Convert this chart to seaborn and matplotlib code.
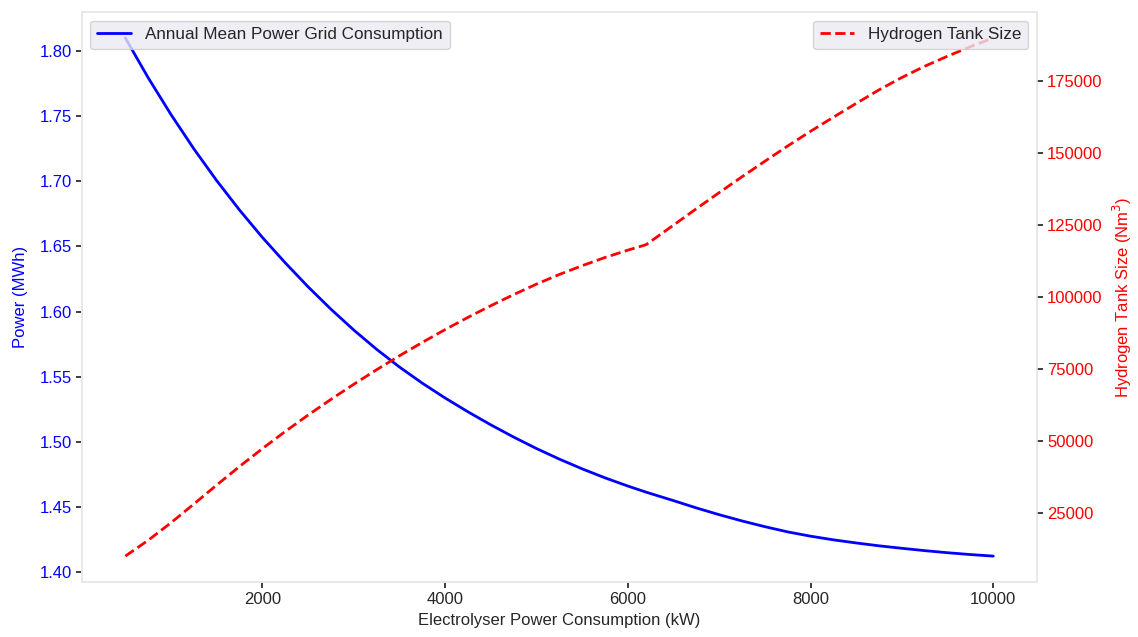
import matplotlib
matplotlib.use("Agg")
import matplotlib.pyplot as plt
import pandas as pd
import seaborn as sns

# Electrolyser sizes (kW)
electrolyser_kw = [500, 750, 1000, 1250, 1500, 1750, 2000, 2250, 2500, 2750,
                   3000, 3250, 3500, 3750, 4000, 4250, 4500, 4750, 5000, 5250,
                   5500, 5750, 6000, 6200, 6500, 6750, 7000, 7250, 7500, 7750,
                   8000, 8250, 8500, 8750, 9000, 9250, 9500, 9750, 10000]

# Annual mean grid consumption (MWh)
grid_power_mwh = [1.8100, 1.7795, 1.7512, 1.7249, 1.7005, 1.6779, 1.6569, 1.6374, 1.6190, 1.6018,
                  1.5858, 1.5710, 1.5574, 1.5450, 1.5336, 1.5230, 1.5130, 1.5036, 1.4948, 1.4867,
                  1.4792, 1.4723, 1.4660, 1.4613, 1.4548, 1.4492, 1.4440, 1.4392, 1.4348, 1.4308,
                  1.4275, 1.4247, 1.4223, 1.4201, 1.4182, 1.4164, 1.4148, 1.4134, 1.4122]

# Required hydrogen tank size (Nm^3)
tank_size_nm3 = [10000, 15500, 21600, 28100, 34700, 41150, 47350, 53300, 59000, 64450,
                 69700, 74750, 79600, 84250, 88700, 92950, 97000, 100850, 104500, 107850,
                 110900, 113750, 116300, 118200, 125000, 130700, 136300, 141800, 147200, 152500,
                 157600, 162500, 167300, 172000, 176300, 180200, 183700, 187000, 190000]

df = pd.DataFrame({
    "Electrolyser Power Consumption (kW)": electrolyser_kw,
    "Power (MWh)": grid_power_mwh,
    "Tank": tank_size_nm3,
})

sns.set_theme(style="white")
plt.rcParams["font.family"] = ["Liberation Sans", "DejaVu Sans"]
plt.rcParams.update({
    "axes.edgecolor": "#e8e8e8",
    "axes.linewidth": 1.2,
    "xtick.bottom": True,
    "ytick.left": True,
    "ytick.right": True,
    "xtick.major.size": 4,
    "ytick.major.size": 4,
    "xtick.color": ".15",
    "ytick.color": ".15",
    "legend.facecolor": "#eaeaf2",
    "legend.edgecolor": "#cccccc",
})

fig, ax1 = plt.subplots(figsize=(11.38, 6.37), dpi=100)
fig.subplots_adjust(left=0.072, right=0.911, top=0.981, bottom=0.0863)

sns.lineplot(data=df, x="Electrolyser Power Consumption (kW)", y="Power (MWh)",
             ax=ax1, color="blue", linewidth=2,
             label="Annual Mean Power Grid Consumption")
ax1.set_xlabel("Electrolyser Power Consumption (kW)", fontsize=12, color=".15")
ax1.set_ylabel("Power (MWh)", fontsize=12, color="blue", labelpad=8)
ax1.tick_params(axis="y", labelcolor="blue", labelsize=12)
ax1.tick_params(axis="x", labelsize=12)
ax1.set_yticks([1.40, 1.45, 1.50, 1.55, 1.60, 1.65, 1.70, 1.75, 1.80])
ax1.set_xticks([2000, 4000, 6000, 8000, 10000])
ax1.legend(loc="upper left", fontsize=12.3, framealpha=0.8)

ax2 = ax1.twinx()
sns.lineplot(data=df, x="Electrolyser Power Consumption (kW)", y="Tank",
             ax=ax2, color="red", linewidth=2, linestyle="--",
             label="Hydrogen Tank Size")
ax2.set_ylabel("Hydrogen Tank Size (Nm$^3$)", fontsize=12, color="red", labelpad=6)
ax2.tick_params(axis="y", labelcolor="red", labelsize=12, right=True, length=4)
ax2.set_yticks([25000, 50000, 75000, 100000, 125000, 150000, 175000])
ax2.legend(loc="upper right", fontsize=12.3, framealpha=0.8)
for sp in ax2.spines.values():
    sp.set_color("#e8e8e8")

fig.savefig("out.png", dpi=100)
